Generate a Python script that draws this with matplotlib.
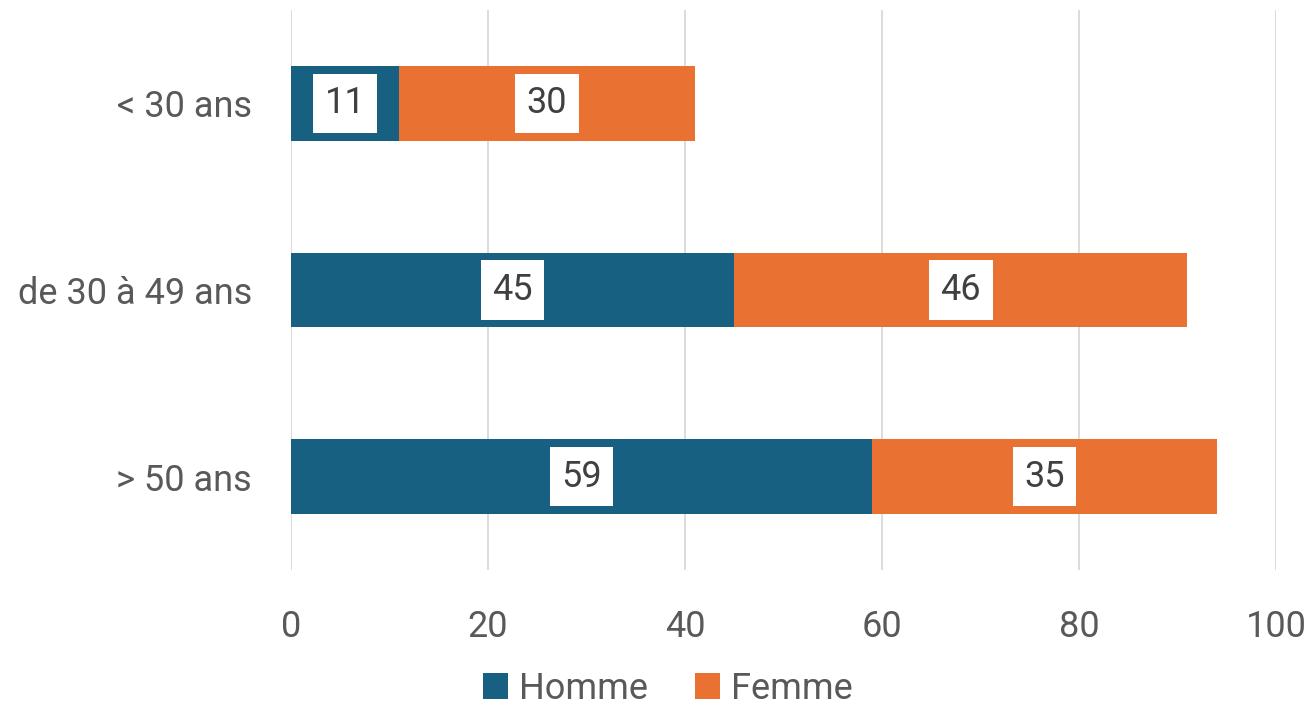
import matplotlib
matplotlib.use("Agg")
import matplotlib.pyplot as plt
import numpy as np

categories = ["< 30 ans", "de 30 à 49 ans", "> 50 ans"]
homme = [11, 45, 59]
femme = [30, 46, 35]
series_names = ["Homme", "Femme"]
xticks = [0, 20, 40, 60, 80, 100]

c_h = "#176082"
c_f = "#E97132"
txt = "#595959"

plt.rcParams['font.family'] = ['Roboto', 'DejaVu Sans']

fig = plt.figure(figsize=(13.09, 7.10), dpi=100)
ax = fig.add_axes([0.2223, 0.197, 0.7525, 0.789])

y = np.arange(len(categories))
b1 = ax.barh(y, homme, height=0.4, color=c_h, label=series_names[0], zorder=2)
b2 = ax.barh(y, femme, left=homme, height=0.4, color=c_f, label=series_names[1], zorder=2)

for bars, vals, lefts in ((b1, homme, [0]*3), (b2, femme, homme)):
    for yi, v, l in zip(y, vals, lefts):
        ax.text(l + v / 2, yi, str(v), ha='center', va='center', fontsize=26,
                color="#404040", zorder=3,
                bbox=dict(boxstyle='square,pad=0.32', fc='white', ec='none'))

ax.set_xlim(0, 100)
ax.set_ylim(2.5, -0.5)
ax.set_xticks(xticks)
ax.set_xticklabels([str(t) for t in xticks])
ax.set_yticks(y)
ax.set_yticklabels(categories)
ax.tick_params(axis='both', length=0, labelsize=26, colors=txt)
ax.tick_params(axis='x', pad=28)
ax.tick_params(axis='y', pad=28)
ax.grid(axis='x', color='#D9D9D9', linewidth=1.3, zorder=0)
for s in ax.spines.values():
    s.set_visible(False)

fig.legend(handles=[b1, b2], labels=series_names, loc='center',
           bbox_to_anchor=(0.51, 0.03), ncol=2, frameon=False, fontsize=26,
           labelcolor=txt, handlelength=0.7, handleheight=0.7, handletextpad=0.3,
           columnspacing=1.3, borderpad=0.1)

fig.savefig("out.png", dpi=100)
